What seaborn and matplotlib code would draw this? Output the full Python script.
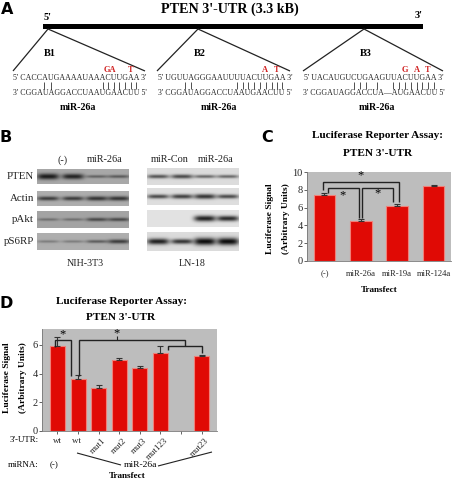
import numpy as np
import pandas as pd
import matplotlib
matplotlib.use("Agg")
import matplotlib.pyplot as plt
from matplotlib.transforms import ScaledTranslation
import seaborn as sns

sns.set_style("white")
plt.rcParams['font.family'] = ['Liberation Serif', 'DejaVu Serif']

RED = "#e00a05"
EDGE = "#f08078"
GREY = "#bdbdbd"

# panel C
c_names = ["(-)", "miR-26a", "miR-19a", "miR-124a"]
c_vals = [7.4, 4.55, 6.2, 8.45]
c_errs = [0.2, 0.15, 0.15, 0.12]

# panel D
d_names = ["wt", "wt ", "mut1", "mut2", "mut3", "mut123", "", "mut23"]
d_vals = [5.95, 3.65, 2.97, 4.92, 4.42, 5.45, 0, 5.2]
d_errs = [0.6, 0.22, 0.25, 0.17, 0.12, 0.45, 0, 0.12]

# panel A sequences
b1_top = "5' CACCAUGAAAAUAAACUUGAA 3'"
b1_bot = "3' CGGAUAGGACCUAAUGAACUU 5'"
b2_top = "5' UGUUAGGGAAUUUUACUUGAA 3'"
b2_bot = "3' CGGAUAGGACCUAAUGAACUU 5'"
b3_top = "5' UACAUGUCUGAAGUUACUUGAA 3'"
b3_bot = "3' CGGAUAGGACCUA\u2014AUGAACUU 5'"

# panel B band strength per lane, 0 = no band
blot_rows = ["PTEN", "Actin", "pAkt", "pS6RP"]
left_bands = [[0.9, 0.85, 0.45, 0.5], [0.7, 0.7, 0.75, 0.75],
              [0.35, 0.35, 0.6, 0.6], [0.3, 0.3, 0.5, 0.7]]
right_bands = [[0.65, 0.7, 0.55, 0.55], [0.7, 0.75, 0.8, 0.7],
               [0.0, 0.0, 0.9, 0.85], [0.9, 0.8, 1.0, 1.0]]
left_bg = [0.66, 0.68, 0.64, 0.68]
right_bg = [0.86, 0.87, 0.89, 0.86]

W, H = 455, 480
fig = plt.figure(figsize=(W / 100, H / 100), dpi=100)


def px_axes(x0, y0, x1, y1):
    return fig.add_axes([x0 / W, 1 - y1 / H, (x1 - x0) / W, (y1 - y0) / H])


def bars(ax, names, vals, errs, width):
    df = pd.DataFrame({"name": names, "val": vals})
    sns.barplot(data=df, x="name", y="val", color=RED, saturation=1, width=width,
                edgecolor=EDGE, linewidth=0.8, ax=ax)
    xs = [i for i, e in enumerate(errs) if e > 0]
    ax.errorbar(xs, [vals[i] for i in xs], yerr=[[0] * len(xs), [errs[i] for i in xs]],
                fmt="none", ecolor="#333333", elinewidth=0.8, capsize=2, capthick=0.8)
    ax.set_facecolor(GREY)
    ax.set_xlabel("")
    ax.set_ylabel("")
    for s in ["top", "right"]:
        ax.spines[s].set_visible(False)
    for s in ["left", "bottom"]:
        ax.spines[s].set_color("#777777")
        ax.spines[s].set_linewidth(0.6)


# panel C
axc = px_axes(307, 172, 451, 261)
bars(axc, c_names, c_vals, c_errs, 0.6)
axc.set_ylim(0, 10)
axc.set_yticks([0, 2, 4, 6, 8, 10])
axc.tick_params(axis="y", labelsize=7.5, length=2, width=0.5, pad=1, left=True)
axc.tick_params(axis="x", labelsize=6.2, length=0, pad=6.5)

# panel D
axd = px_axes(42, 329, 217, 431)
bars(axd, d_names, d_vals, d_errs, 0.73)
axd.set_ylim(0, 7.1)
axd.set_yticks([0, 2, 4, 6])
axd.tick_params(axis="y", labelsize=7.5, length=2, width=0.5, pad=1, left=True)
axd.tick_params(axis="x", labelsize=6.4, length=2, width=0.5, pad=2, bottom=True)
nudge = ScaledTranslation(3 / 100, 0, fig.dpi_scale_trans)
for lab in axd.get_xticklabels():
    if lab.get_text().startswith("mut"):
        lab.set_rotation(45)
        lab.set_ha("right")
        lab.set_rotation_mode("anchor")
        lab.set_transform(lab.get_transform() + nudge)

# overlay in pixel coordinates for everything around the axes
ov = fig.add_axes([0, 0, 1, 1], zorder=5)
ov.patch.set_alpha(0)
ov.axis("off")


def blot(x0, x1, y0, y1, bg, strengths, lanes):
    nx, ny = int((x1 - x0) * 3), int((y1 - y0) * 3)
    xx, yy = np.meshgrid(np.linspace(x0, x1, nx), np.linspace(y0, y1, ny))
    yc = (y0 + y1) / 2
    img = np.full(xx.shape, bg)
    for s, lx in zip(strengths, lanes):
        if s <= 0:
            continue
        sx = 11
        sy = 1.3 + 2.4 * s ** 3
        band = s * np.exp(-(np.abs(xx - lx) / sx) ** 4 - ((yy - yc) / sy) ** 2)
        img = img * (1 - band) + 0.05 * band
    ov.imshow(img, extent=[x0, x1, y1, y0], cmap="gray", vmin=0, vmax=1,
              aspect="auto", interpolation="bilinear", zorder=1)


left_lanes = [48, 73, 97, 119]
right_lanes = [158, 182, 205, 228]
left_y = [(169, 184), (191, 206), (211, 228), (233, 250)]
right_y = [(168, 185), (188, 205), (210, 227), (232, 251)]
for i in range(4):
    blot(37, 129, left_y[i][0], left_y[i][1], left_bg[i], left_bands[i], left_lanes)
    blot(147, 239, right_y[i][0], right_y[i][1], right_bg[i], right_bands[i], right_lanes)
    ov.text(34, sum(left_y[i]) / 2, blot_rows[i], ha="right", va="center", fontsize=7.8, color="#222222")

ov.set_xlim(0, W)
ov.set_ylim(H, 0)


def t(x, y, s, size=7, bold=False, color="black", **kw):
    kw.setdefault("ha", "center")
    kw.setdefault("va", "center")
    ov.text(x, y, s, fontsize=size, color=color,
            fontweight="bold" if bold else "normal", **kw)


def path(xs, ys, lw=1.0, color="#222222"):
    ov.plot(xs, ys, color=color, lw=lw, solid_capstyle="butt", solid_joinstyle="miter")


# panel letters
for x, y, s in [(7, 9, "A"), (6, 138, "B"), (267, 137, "C"), (6, 303, "D")]:
    ov.text(x, y, s, fontsize=11.5, fontweight="bold", family="DejaVu Sans", color="black",
            ha="center", va="center")

# panel A
t(230, 9, "PTEN 3'-UTR (3.3 kB)", 10.2, True)
t(48, 17, "5'", 7.5, True)
t(419, 16, "3'", 7.5, True)
ov.fill_between([43, 423], 24, 29, color="black", lw=0)
for ax_, lx, rx in [(48, 13, 145), (198, 157, 290), (364, 303, 443)]:
    path([lx, ax_, rx], [71, 29, 71], 0.9)
t(50, 53, "B1", 7.5, True)
t(200, 53, "B2", 7.5, True)
t(366, 53, "B3", 7.5, True)

for x0, x1, top, bot in [(12, 147, b1_top, b1_bot), (156, 294, b2_top, b2_bot), (304, 444, b3_top, b3_bot)]:
    t((x0 + x1) / 2, 78.5, top, 5.7, color="#222222")
    t((x0 + x1) / 2, 93, bot, 5.7, color="#222222")

pairs = [44, 51, 103, 108, 114, 119, 125, 131, 136,
         185, 191, 237, 243, 248, 254, 260, 266, 272, 277, 282,
         354, 360, 366, 377, 393, 399, 405, 411, 417, 422, 428, 434]
for x in pairs:
    path([x, x], [82, 89], 0.6, "#333333")

for x, s in [(110, "GA"), (131, "T"), (265, "A"), (277, "T"), (405, "G"), (417, "A"), (428, "T")]:
    t(x, 70.5, s, 6, True, "#d02020")
for x in [78, 219, 377]:
    t(x, 108, "miR-26a", 7.2, True)

# panel B
t(63, 160, "(-)", 7.4, color="#222222")
t(105, 160, "miR-26a", 7.4, color="#222222")
t(170, 160, "miR-Con", 7.4, color="#222222")
t(216, 160, "miR-26a", 7.4, color="#222222")
t(85, 263, "NIH-3T3", 7.2, color="#222222")
t(192, 263, "LN-18", 7.2, color="#222222")

# panel C text
t(378, 136, "Luciferase Reporter Assay:", 8.1, True)
t(378, 153, "PTEN 3'-UTR", 8.1, True)
t(270, 219, "Luciferase Signal", 6.8, True, rotation=90)
t(286, 219, "(Arbitrary Units)", 6.8, True, rotation=90)
t(379, 290, "Transfect", 6.6, True)

path([323, 323, 399, 399], [190, 182, 182, 202])
path([328, 328, 359, 359], [193, 188, 188, 218])
path([362, 362, 393, 393], [218, 188, 188, 202])
t(361, 175, "*", 9)
t(343, 195, "*", 9)
t(378, 193, "*", 9)

# panel D text
t(121, 301, "Luciferase Reporter Assay:", 8.1, True)
t(121, 318, "PTEN 3'-UTR", 8.1, True)
t(7, 378, "Luciferase Signal", 6.8, True, rotation=90)
t(23, 378, "(Arbitrary Units)", 6.8, True, rotation=90)
t(39, 440, "3'-UTR:", 6.4, ha="right")
t(39, 465, "miRNA:", 6.4, ha="right")
t(54, 465, "(-)", 6.4)
t(140, 465, "miR-26a", 6.8)
t(127, 476, "Transfect", 6.6, True)
path([77, 121], [453, 465], 0.8)
path([158, 212], [466, 452], 0.8)

path([55, 55, 71, 71], [347, 340, 340, 376])
path([79, 79, 185, 185], [376, 340, 340, 346])
path([168, 168, 202, 202], [350, 346, 346, 353])
path([117, 117], [336, 340], 0.8)
t(63, 334, "*", 9)
t(117, 333, "*", 9)

fig.savefig("out.png", dpi=100)
